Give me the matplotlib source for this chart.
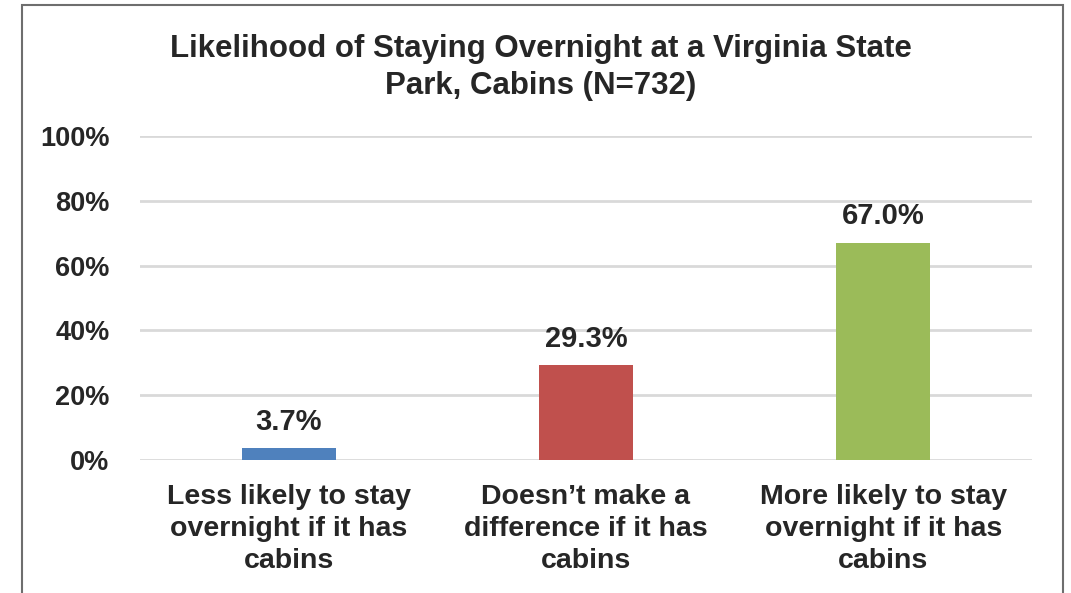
import matplotlib.pyplot as plt
from matplotlib.patches import Rectangle

plt.rcParams['font.family'] = ['Liberation Sans', 'DejaVu Sans']
plt.rcParams['font.weight'] = 'bold'

categories = [
    'Less likely to stay\novernight if it has\ncabins',
    'Doesn\u2019t make a\ndifference if it has\ncabins',
    'More likely to stay\novernight if it has\ncabins',
]
values = [3.7, 29.3, 67.0]
colors = ['#4F81BD', '#C0504D', '#9BBB59']
yticks = [0, 20, 40, 60, 80, 100]
title = 'Likelihood of Staying Overnight at a Virginia State\nPark, Cabins (N=732)'

fig = plt.figure(figsize=(10.71, 5.93), dpi=100)
ax = fig.add_axes([0.1307, 0.2243, 0.8329, 0.5464])

x = list(range(len(categories)))
ax.bar(x, values, width=0.316, color=colors, zorder=3)
for xi, v in zip(x, values):
    ax.annotate(f'{v:.1f}%', (xi, v), xytext=(0, 9), textcoords='offset points',
                ha='center', va='bottom', fontsize=21, fontweight='bold', color='#262626')

ax.set_xlim(-0.5, 2.5)
ax.set_ylim(0, 100)
ax.set_yticks(yticks)
ax.set_yticklabels([f'{t}%' for t in yticks])
ax.set_xticks(x)
ax.set_xticklabels(categories, linespacing=1.3)
ax.tick_params(axis='y', length=0, pad=22, labelsize=19.5, colors='#262626')
ax.tick_params(axis='x', length=0, pad=17, labelsize=20.5, colors='#262626')
for lab in ax.get_xticklabels() + ax.get_yticklabels():
    lab.set_fontweight('bold')
ax.grid(axis='y', color='#D9D9D9', linewidth=2, zorder=0)
for s in ax.spines.values():
    s.set_visible(False)

fig.text(0.505, 0.943, title, ha='center', va='top', fontsize=22.5,
         fontweight='bold', color='#262626', linespacing=1.3)

frame = Rectangle((22 / 1071, -0.05), (1063 - 22) / 1071, 1.05 - 5 / 593,
                  transform=fig.transFigure, fill=False, edgecolor='#6E6E6E',
                  linewidth=1.5)
fig.patches.append(frame)

fig.savefig('out.png', dpi=100)
